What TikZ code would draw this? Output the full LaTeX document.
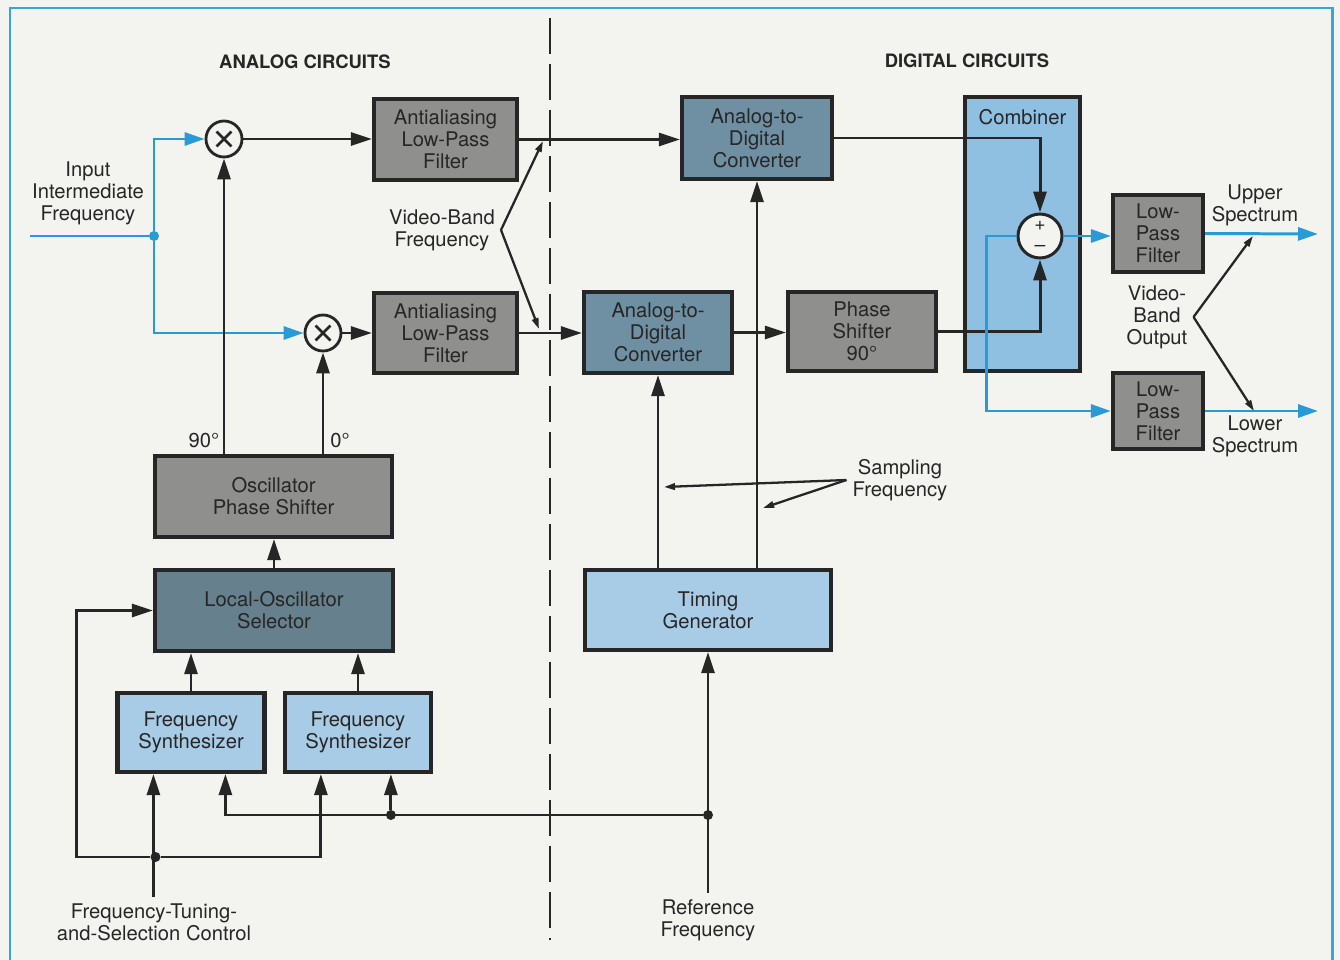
\documentclass[tikz,border=0pt]{standalone}
\usepackage{fontspec}
\setmainfont{TeX Gyre Heros}
\usetikzlibrary{arrows.meta,positioning,calc}
\definecolor{paper}{HTML}{F3F3EF}
\definecolor{frameblue}{HTML}{3BA2DB}
\definecolor{sig}{HTML}{2A9AD6}
\definecolor{ink}{HTML}{262626}
\definecolor{boxgray}{HTML}{8F8F8D}
\definecolor{steel}{HTML}{6F8FA2}
\definecolor{steeldk}{HTML}{66808D}
\definecolor{sky}{HTML}{A8CBE6}
\definecolor{combsky}{HTML}{8FC0E2}
\tikzset{
  every node/.style={font=\fontsize{11.5}{12.5}\selectfont, text=ink},
  block/.style={draw=ink, line width=2.4pt, align=center, inner sep=2pt},
  grayblk/.style={block, fill=boxgray},
  adcblk/.style={block, fill=steel},
  selblk/.style={block, fill=steeldk},
  skyblk/.style={block, fill=sky},
  lbl/.style={align=center},
  head/.style={font=\fontsize{10.5}{12}\selectfont\bfseries},
  flow/.style={-{Triangle[length=4.2mm,width=2.6mm]}, line width=1.7pt, draw=ink},
  bflow/.style={-{Triangle[length=4mm,width=2.6mm]}, line width=1.7pt, draw=sig},
  bline/.style={line width=1.7pt, draw=sig},
  pointer/.style={-{Triangle[length=2.2mm,width=1.3mm]}, line width=1.3pt, draw=ink},
  dot/.style={circle, fill=ink, inner sep=0pt, minimum size=0.2cm},
  mixer/.style={circle, draw=ink, line width=1.6pt, fill=paper, minimum size=0.72cm, inner sep=0pt,
                path picture={\draw[ink, line width=1.5pt]
                  ([shift={(-0.15cm,0.15cm)}]path picture bounding box.center) --
                  ([shift={(0.15cm,-0.15cm)}]path picture bounding box.center)
                  ([shift={(0.15cm,0.15cm)}]path picture bounding box.center) --
                  ([shift={(-0.15cm,-0.15cm)}]path picture bounding box.center);}},
  summer/.style={circle, draw=ink, line width=1.7pt, fill=paper, minimum size=0.88cm, inner sep=0pt,
                 align=center, font=\fontsize{11}{12}\selectfont}
}

\begin{document}
\begin{tikzpicture}[x=0.02cm, y=-0.02cm]
  \useasboundingbox[fill=paper] (0,0) rectangle (1340,960);
  \draw[frameblue, line width=1.7pt] (10,975) -- (10,8) -- (1332,8) -- (1332,975);
  \draw[ink, line width=1.6pt, dash pattern=on 0.72cm off 0.2cm] (550,18) -- (550,940);

  \node[head] (analog) at (305,62) {ANALOG CIRCUITS};
  \node[head] (digital) at (967,61) {DIGITAL CIRCUITS};

  % analog blocks
  \node[grayblk, minimum width=2.86cm, minimum height=1.62cm] (aaf1) at (445.5,139.5) {Antialiasing\\Low-Pass\\Filter};
  \node[grayblk, minimum width=2.86cm, minimum height=1.6cm] (aaf2) at (445.5,333) {Antialiasing\\Low-Pass\\Filter};
  \node[grayblk, minimum width=4.74cm, minimum height=1.62cm] (ops) at (273.5,496.5) {Oscillator\\Phase Shifter};
  \node[selblk, minimum width=4.76cm, minimum height=1.62cm] (los) at (274,610.5) {Local-Oscillator\\Selector};
  \node[skyblk, minimum width=2.94cm, minimum height=1.58cm] (fs1) at (191,732.5) {Frequency\\Synthesizer};
  \node[skyblk, minimum width=2.92cm, minimum height=1.58cm] (fs2) at (358,732.5) {Frequency\\Synthesizer};
  \node[mixer] (mix1) at (224,139) {};
  \node[mixer] (mix2) at (323,333) {};

  % digital blocks
  \node[adcblk, minimum width=3.0cm, minimum height=1.64cm] (adc1) at (757,138) {Analog-to-\\Digital\\Converter};
  \node[adcblk, minimum width=2.96cm, minimum height=1.62cm] (adc2) at (658,332.5) {Analog-to-\\Digital\\Converter};
  \node[grayblk, minimum width=2.96cm, minimum height=1.58cm] (shift) at (862,331.5) {Phase\\Shifter\\90°};
  \node[block, fill=combsky, minimum width=2.3cm, minimum height=5.48cm,
        label={[anchor=north, inner sep=8pt]north:Combiner}] (comb) at (1022.5,234) {};
  \node[summer] (sum) at (1040,236) {+\\–};
  \node[grayblk, minimum width=1.8cm, minimum height=1.54cm] (lpf1) at (1158,233.5) {Low-\\Pass\\Filter};
  \node[grayblk, minimum width=1.8cm, minimum height=1.52cm] (lpf2) at (1158,411) {Low-\\Pass\\Filter};
  \node[skyblk, minimum width=4.92cm, minimum height=1.6cm] (tg) at (708,610) {Timing\\Generator};

  % input IF
  \node[lbl] (inlab) at (88,193) {Input\\Intermediate\\Frequency};
  \coordinate (in) at (30,236);
  \node[dot, fill=sig] (ji) at (154,236) {};
  \draw[bline] (in) -- (ji);
  \draw[bflow] (ji) |- (mix1.west);
  \draw[bflow] (ji) |- (mix2.west);

  % mixers and filters
  \draw[flow] (mix1) -- (mix1 -| aaf1.west);
  \draw[flow] (mix2) -- (mix2 -| aaf2.west);
  \draw[flow] (ops.north -| mix1) -- (mix1);
  \draw[flow] (ops.north -| mix2) -- (mix2);
  \node (deg90) at (204,440) {90°};
  \node (deg0) at (340,440) {0°};
  \draw[flow] (los.north) -- (los.north |- ops.south);
  \draw[flow] (fs1.north) -- (fs1.north |- los.south);
  \draw[flow] (fs2.north) -- (fs2.north |- los.south);

  % tuning control
  \path (fs1.south west) ++(38,0) coordinate (fs1a) ++(72,0) coordinate (fs1b);
  \path (fs2.south west) ++(38,0) coordinate (fs2a) ++(70,0) coordinate (fs2b);
  \node[lbl] (ctl) at (154,922) {Frequency-Tuning-\\and-Selection Control};
  \node[dot] (jc) at (155.5,857) {};
  \draw[flow] (ctl.north -| fs1a) -- (fs1a);
  \draw[flow] (jc) -| (fs2a);
  \draw[flow] (jc) -- ++(-79,0) |- (los.west);

  % reference frequency
  \node[lbl] (ref) at (708,920) {Reference\\Frequency};
  \node[dot] (jr) at (708,815) {};
  \draw[flow] (ref.north -| tg) -- (tg.south);
  \draw[flow] (jr) -| (fs1b);
  \node[dot] (jr2) at (jr -| fs2b) {};
  \draw[flow] (jr2) -- (fs2b);

  % converters
  \draw[flow] (aaf1.east) -- (aaf1.east -| adc1.west);
  \draw[flow] (aaf2.east) -- (aaf2.east -| adc2.west);
  \draw[flow] (adc2.east) -- (adc2.east -| shift.west);
  \draw[flow] (tg.north -| adc2) -- (adc2.south);
  \draw[flow] (tg.north -| adc1) -- (adc1.south);
  \draw[flow] (adc1.east) -| (sum.north);
  \draw[flow] (shift.east) -| (sum.south);

  % outputs
  \coordinate (up) at (1318,234);
  \coordinate (lo) at (1318,411);
  \draw[bflow] (sum.east) -- (sum.east -| lpf1.west);
  \draw[bflow] (sum.west) -- ++(-30,0) |- (lpf2.west);
  \draw[bflow] (lpf1.east) -- (up);
  \draw[bflow] (lpf2.east) -- (lo);

  % pointer labels
  \node[lbl] (vbf) at (442,230) {Video-Band\\Frequency};
  \coordinate (vbf1) at (543,141);
  \coordinate (vbf2) at (539,329);
  \draw[pointer] (vbf.east) -- (vbf1);
  \draw[pointer] (vbf.east) -- (vbf2);
  \node[lbl] (samp) at (900,480) {Sampling\\Frequency};
  \coordinate (sfa) at (664,487);
  \coordinate (sfb) at (763,508);
  \draw[pointer] (samp.west) -- (sfa);
  \draw[pointer] (samp.west) -- (sfb);
  \node[lbl] (vbo) at (1157,317) {Video-\\Band\\Output};
  \coordinate (vbo1) at (1253,236);
  \coordinate (vbo2) at (1254,411);
  \draw[pointer] (vbo.east) -- (vbo1);
  \draw[pointer] (vbo.east) -- (vbo2);
  \node[lbl] (upper) at (1255,205) {Upper\\Spectrum};
  \node[lbl] (lower) at (1255,436) {Lower\\Spectrum};
\end{tikzpicture}
\end{document}
